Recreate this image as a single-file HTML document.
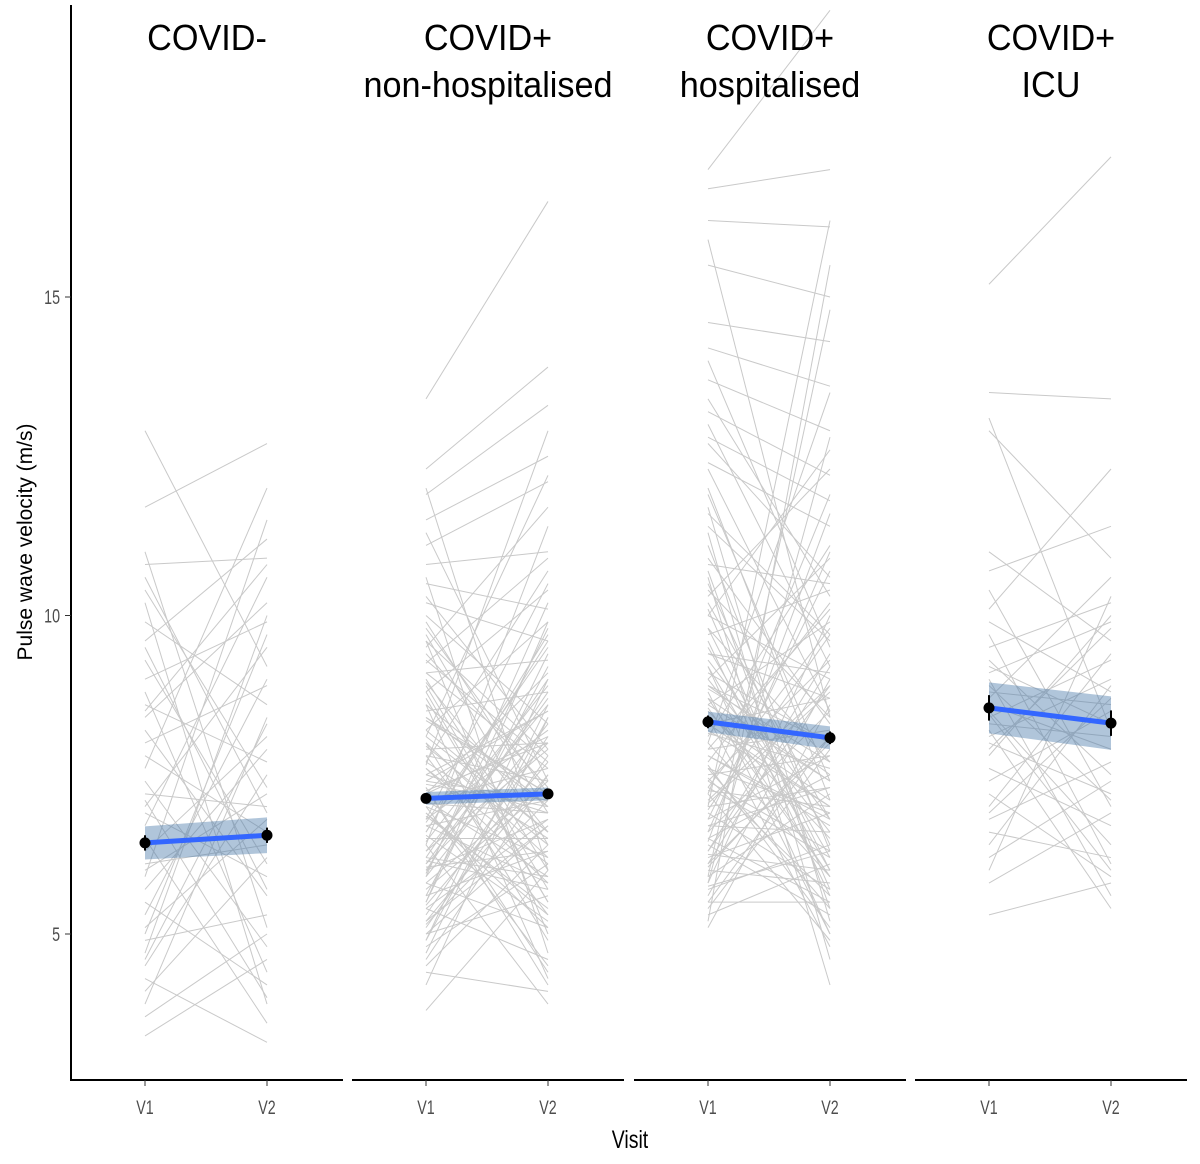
<!DOCTYPE html>
<html><head><meta charset="utf-8"><style>
html,body{margin:0;padding:0;background:#fff}
svg{display:block}
text{font-family:"Liberation Sans",sans-serif}
</style></head><body>
<svg id="chart" width="1200" height="1164" viewBox="0 0 1200 1164">
<g id="lines"></g>
<g id="ribbons"></g>
<g id="axes"></g>
</svg>
<script>
const panelTitles=[["COVID-"],["COVID+","non-hospitalised"],["COVID+","hospitalised"],["COVID+","ICU"]];
const visits=["V1","V2"];
const yTicks=[5,10,15];
const p1v1=[12.9,11.7,11.0,10.8,10.4,10.2,9.9,9.6,9.3,9.0,8.8,8.6,8.4,8.2,8.0,7.8,7.6,7.4,7.2,7.0,6.9,6.7,6.5,6.3,6.1,5.9,5.7,5.5,5.3,5.1,4.9,4.7,4.5,4.3,4.1,3.9,3.7,3.4,8.5,7.1,6.0,5.0,9.5,10.6,4.6];
const p1v2=[9.2,12.7,5.1,10.9,7.3,3.9,8.6,11.2,6.1,9.9,4.4,7.7,10.2,5.6,8.9,6.6,12.0,4.8,7.0,9.5,5.9,10.6,3.6,8.1,6.4,11.5,7.9,4.2,9.0,6.8,5.3,10.0,7.5,3.3,6.2,8.4,5.0,4.6,10.8,4.0,7.2,9.7,5.7,6.9,8.3];
const p2v1=[13.4,12.3,11.9,11.5,11.1,10.8,10.5,10.2,10.0,9.8,9.7,9.5,9.3,9.1,9.0,8.8,8.7,8.5,8.4,8.2,8.1,8.0,7.9,7.8,7.7,7.6,7.5,7.4,7.3,7.2,7.1,7.0,6.9,6.8,6.7,6.6,6.5,6.4,6.3,6.2,6.1,6.0,5.9,5.8,5.7,5.6,5.5,5.4,5.3,5.2,5.1,5.0,4.9,4.8,4.6,4.4,4.2,3.8,7.35,6.85,6.45,7.95,8.35,5.95,6.15,7.05,9.25,10.6,5.45,4.7,8.95,6.55,7.65,5.15,6.75,8.6,7.25,6.05,11.3,9.6,
8.9,6.3,7.6,5.6,9.4,7.0,6.1,8.2,5.2,7.8,6.6,9.9,5.9,7.3,8.6,6.8,4.5,10.3,7.1,6.0,8.0,5.5,9.1,6.9,7.5,5.0,8.4,6.4,12.0,7.2,5.8,8.8,6.2,7.7,9.6,4.9,6.7,8.1,5.4,7.4];
const p2v2=[16.5,13.9,13.3,12.5,12.1,11.0,10.1,9.6,8.3,7.2,6.4,11.7,7.7,9.3,6.0,10.4,5.5,8.8,7.0,9.9,6.6,4.9,8.0,7.4,10.7,5.8,6.9,8.5,4.4,9.1,7.6,6.2,5.3,8.2,7.1,9.7,6.5,3.9,7.9,5.9,8.7,6.8,10.2,5.1,7.3,6.3,9.4,4.6,8.1,6.7,7.8,5.6,9.0,6.1,7.5,4.1,8.4,6.0,7.0,5.4,8.9,6.4,7.2,9.8,5.7,6.9,10.9,4.7,7.7,8.6,6.6,5.2,12.9,7.1,9.5,4.3,8.0,6.3,7.4,5.0,
5.7,8.6,6.1,9.2,7.3,4.5,8.0,6.6,7.5,5.3,9.6,6.9,8.3,4.2,7.0,10.5,6.4,7.9,5.9,8.8,6.2,9.9,7.6,5.1,8.5,6.7,7.2,11.4,6.0,8.1,7.4,5.5,9.0,6.5,7.8,8.4,5.8,12.2,6.8,7.1];
const p3v1=[17.0,16.7,16.2,15.5,14.6,14.2,13.7,13.2,12.8,12.4,12.0,11.7,11.4,11.1,10.8,10.6,10.4,10.2,10.0,9.8,9.6,9.4,9.2,9.0,8.9,8.8,8.7,8.6,8.5,8.4,8.3,8.2,8.1,8.0,7.9,7.8,7.7,7.6,7.5,7.4,7.3,7.2,7.1,7.0,6.9,6.8,6.7,6.6,6.5,6.4,6.3,6.2,6.1,6.0,5.9,5.8,5.7,5.6,5.5,5.4,5.3,5.1,8.15,7.65,6.95,9.3,10.9,7.25,6.45,8.55,11.9,5.75,7.05,9.7,6.25,8.85,13.0,7.45,6.05,10.3,
9.5,7.3,10.7,6.6,8.4,12.3,5.8,9.0,7.9,11.3,6.3,8.6,14.0,7.0,9.8,5.5,8.0,10.1,6.8,12.7,7.6,9.2,6.1,8.9,15.9,7.2,10.5,5.9,8.3,11.6,6.5,9.4,7.8,13.4,6.7,8.7,10.0,5.2,7.4,9.1];
const p3v2=[19.5,17.0,16.1,15.0,14.3,13.6,12.9,12.2,11.8,11.4,7.1,5.2,9.6,6.3,10.5,4.2,8.4,6.8,12.6,7.7,5.6,9.1,6.0,10.9,8.0,5.0,7.4,9.9,6.5,4.8,8.7,7.0,11.1,5.9,8.2,6.7,10.2,5.4,7.8,9.3,6.2,4.9,8.9,7.3,5.7,10.7,6.6,8.5,7.5,5.3,9.4,6.9,8.0,5.8,7.2,10.0,6.4,9.0,5.5,7.9,6.1,8.6,7.6,5.1,9.7,6.8,8.3,7.0,11.6,5.9,7.4,6.3,8.8,10.4,6.0,7.7,9.2,5.6,8.1,12.3,
6.2,9.8,5.4,11.0,7.1,8.5,12.8,6.6,10.1,4.6,8.9,7.4,9.5,16.2,6.0,8.1,13.5,5.7,7.8,10.6,6.9,5.0,9.2,7.5,8.4,11.9,6.4,14.8,7.0,9.7,5.5,8.7,6.8,10.3,7.3,5.9,9.0,15.5,6.3,8.0];
const p4v1=[15.2,13.5,13.1,12.9,11.0,10.4,10.1,9.9,9.7,9.5,9.3,9.1,9.0,8.8,8.7,8.6,8.5,8.4,8.3,8.2,8.1,8.0,7.8,7.6,7.4,7.2,7.0,6.8,6.6,6.4,6.2,6.0,5.8,5.3,10.7,9.2,8.9,7.9,8.45,6.9];
const p4v2=[17.2,13.4,8.2,10.9,9.6,7.0,12.3,8.8,6.1,10.2,7.5,9.9,5.6,8.6,10.6,7.9,6.4,9.3,8.1,5.4,9.0,7.2,10.0,6.7,8.5,5.9,9.4,7.7,6.2,8.9,7.4,10.3,6.9,5.8,11.4,8.3,7.1,9.8,6.0,8.7];
const meanV1=[6.43,7.13,8.33,8.55];
const meanV2=[6.55,7.20,8.08,8.31];
const ciHalf1=[0.26,0.10,0.16,0.40];
const ciHalf2=[0.28,0.10,0.18,0.42];
const errHalf=[0.12,0.08,0.10,0.20];

const NS="http://www.w3.org/2000/svg";
function yS(v){return 934-(v-5)*63.7;}
const panelX0=[71,352,634,915], panelW=272;
function xS(p,vi){return panelX0[p]+74+vi*122;}
function mk(tag,attrs,parent){const e=document.createElementNS(NS,tag);for(const k in attrs)e.setAttribute(k,attrs[k]);parent.appendChild(e);return e;}
const gL=document.getElementById('lines'),gR=document.getElementById('ribbons'),gA=document.getElementById('axes');
const pairs=[[p1v1,p1v2],[p2v1,p2v2],[p3v1,p3v2],[p4v1,p4v2]];
pairs.forEach((pr,p)=>{
  const n=Math.min(pr[0].length,pr[1].length);
  for(let i=0;i<n;i++){
    const l=mk('line',{x1:xS(p,0),y1:yS(pr[0][i]),x2:xS(p,1),y2:yS(pr[1][i]),stroke:'#c9c9c9','stroke-width':1},gL);
    
    
  }
  const x1=xS(p,0),x2=xS(p,1),m1=meanV1[p],m2=meanV2[p];
  const rb=mk('polygon',{points:`${x1},${yS(m1+ciHalf1[p])} ${x2},${yS(m2+ciHalf2[p])} ${x2},${yS(m2-ciHalf2[p])} ${x1},${yS(m1-ciHalf1[p])}`,fill:'#4f7fad','fill-opacity':0.45},gR);
  
  
  const ml=mk('line',{x1:x1,y1:yS(m1),x2:x2,y2:yS(m2),stroke:'#3366ff','stroke-width':5},gR);
  
  
  [[x1,m1],[x2,m2]].forEach(([x,m])=>{
    const eb=mk('line',{x1:x,x2:x,y1:yS(m+errHalf[p]),y2:yS(m-errHalf[p]),stroke:'#000','stroke-width':2},gR);
    
    
    const c=mk('circle',{cx:x,cy:yS(m),r:5.5,fill:'#000'},gR);
    
    
  });
  const ax=mk('line',{x1:panelX0[p],x2:panelX0[p]+panelW,y1:1080,y2:1080,stroke:'#000','stroke-width':2},gA);
  
  
  visits.forEach((v,vi)=>{
    const tk=mk('line',{x1:xS(p,vi),x2:xS(p,vi),y1:1080,y2:1086,stroke:'#333','stroke-width':1},gA);
    
    
    const t=mk('text',{x:0,y:0,'text-anchor':'middle','font-size':19,fill:'#4d4d4d',transform:`translate(${xS(p,vi)},1114) scale(0.75,1)`},gA);
    t.textContent=v;
    
    
  });
  const cx=panelX0[p]+panelW/2;
  panelTitles[p].forEach((s,li)=>{
    const t=mk('text',{x:0,y:0,'text-anchor':'middle','font-size':36,fill:'#000',transform:`translate(${cx},${50+li*47}) scale(0.95,1)`},gA);
    t.textContent=s;
    
    
  });
});
const ya=mk('line',{x1:71,x2:71,y1:5,y2:1081,stroke:'#000','stroke-width':2},gA);


yTicks.forEach(v=>{
  const tk=mk('line',{x1:65,x2:71,y1:yS(v),y2:yS(v),stroke:'#333','stroke-width':1},gA);
  
  
  const t=mk('text',{x:0,y:0,'text-anchor':'end','font-size':19,fill:'#4d4d4d',transform:`translate(60,${yS(v)+7}) scale(0.75,1)`},gA);
  t.textContent=v;
  
  
});
const yt=mk('text',{x:0,y:0,'text-anchor':'middle','font-size':21,fill:'#000',transform:'translate(32,542) rotate(-90)'},gA);
yt.textContent='Pulse wave velocity (m/s)';


const xt=mk('text',{x:0,y:0,'text-anchor':'middle','font-size':25,fill:'#000',transform:'translate(630,1148) scale(0.78,1)'},gA);
xt.textContent='Visit';


</script>
</body></html>
